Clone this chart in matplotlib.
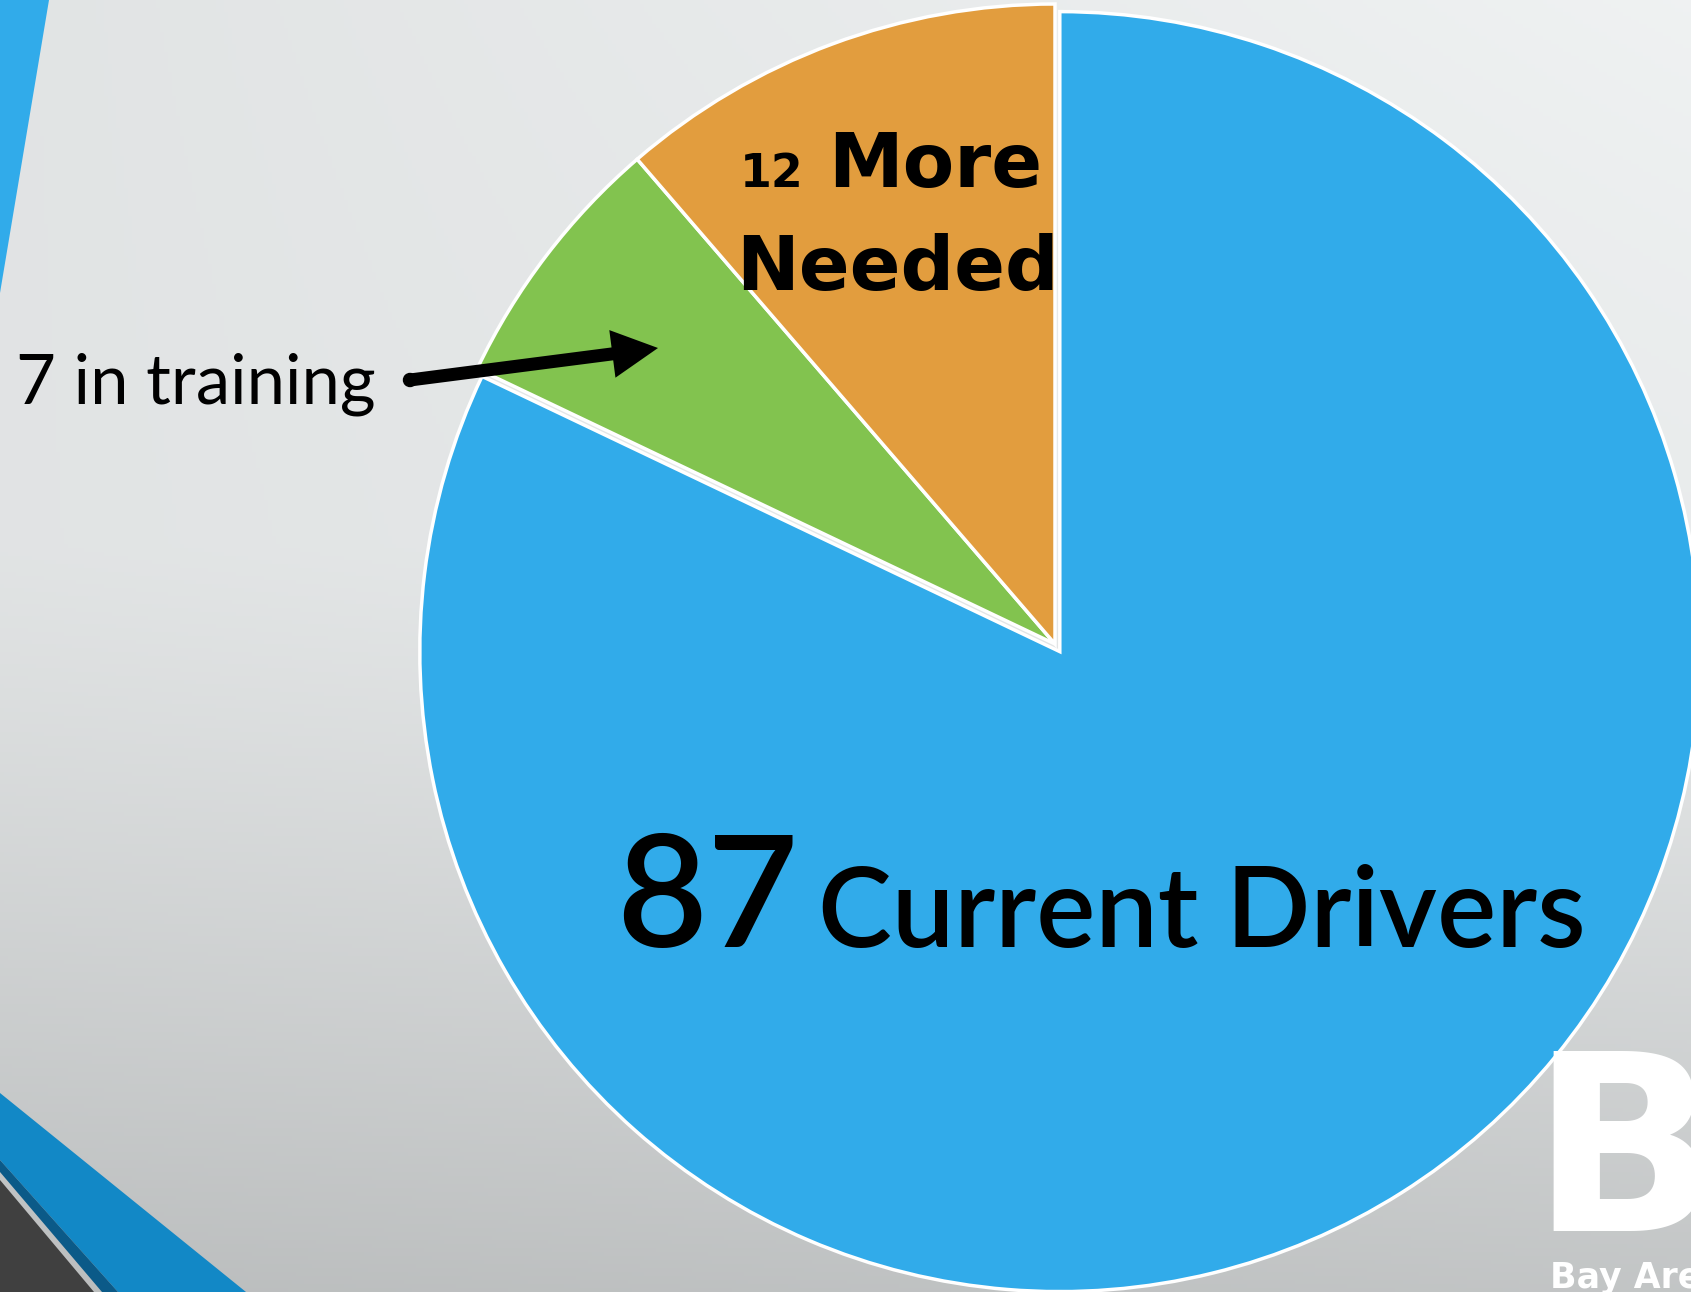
import matplotlib
matplotlib.use("Agg")
import matplotlib.pyplot as plt
import numpy as np
from matplotlib.patches import Polygon, Circle

# data
counts = [87, 7, 12]
labels = ["Current Drivers", "in training", "More Needed"]
colors = ["#31abea", "#82c34f", "#e29d3e"]

W, H = 1691, 1292

fig = plt.figure(figsize=(W / 100, H / 100), dpi=100)
ax = fig.add_axes([0, 0, 1, 1])

# background gradient (light grey, darker towards the bottom left)
yy, xx = np.mgrid[0:H:4, 0:W:4]
t = yy / H
s = xx / W
v = 0.895 + 0.055 * s * (1 - t) ** 2 - 0.15 * np.clip((t - 0.42) / 0.58, 0, 1) ** 1.2 + 0.03 * s * t
bg = np.dstack([v - 0.012, v - 0.002, v])
ax.imshow(bg[::-1], extent=[0, W, 0, H], origin="lower", aspect="auto", zorder=0)

# slide decorations
ax.add_patch(Polygon([(0, H), (49, H), (0, H - 293)], color="#31abea", zorder=0.5, lw=0))
ax.add_patch(Polygon([(0, H - 1093), (246, 0), (118, 0), (0, H - 1160)], color="#1288c6", zorder=0.5, lw=0))
ax.add_patch(Polygon([(0, H - 1160), (118, 0), (102, 0), (0, H - 1172)], color="#0b5a88", zorder=0.5, lw=0))
ax.add_patch(Polygon([(0, H - 1180), (94, 0), (0, 0)], color="#404040", zorder=0.5, lw=0))

# pie
cx, cy, r = 1055, H - 644, 640
ax.pie(counts, colors=colors, startangle=90, counterclock=False,
       center=(cx, cy), radius=r, explode=[9, 0, 0],
       wedgeprops=dict(edgecolor="white", linewidth=2.5))

ax.set_xlim(0, W)
ax.set_ylim(0, H)
ax.set_axis_off()

fam = ["Lato", "DejaVu Sans"]
heavy = ["DejaVu Sans"]

# labels
ax.text(616, 345, str(counts[0]), fontsize=113, family=fam, weight="semibold",
        ha="left", va="baseline", zorder=5)
ax.text(818, 345, labels[0], fontsize=80, family=fam, weight="semibold",
        ha="left", va="baseline", zorder=5)

ax.text(16, 889, f"{counts[1]} {labels[1]}", fontsize=49.5, family=fam,
        ha="left", va="baseline", zorder=5)
ax.arrow(410, 912, 248, 32, width=13, head_width=48, head_length=46,
         length_includes_head=True, color="black", lw=0, zorder=5)
ax.add_patch(Circle((410, 912), 6.5, color="black", zorder=5))

more, needed = labels[2].split()
ax.text(740, 1105, str(counts[2]), fontsize=33, family=heavy, weight="bold",
        ha="left", va="baseline", zorder=5)
ax.text(828, 1105, more, fontsize=54, family=heavy, weight="bold",
        ha="left", va="baseline", zorder=5)
ax.text(736, 1002, needed, fontsize=54, family=heavy, weight="bold",
        ha="left", va="baseline", zorder=5)

# logo
ax.text(1530, H - 1231, "B", fontsize=177, family=["DejaVu Sans"], weight="bold",
        color="white", ha="left", va="baseline", zorder=6)
ax.text(1550, H - 1288, "Bay Area", fontsize=25, family=["DejaVu Sans"],
        weight="bold", color="white", ha="left", va="baseline", zorder=6)

fig.savefig("out.png", dpi=100)
